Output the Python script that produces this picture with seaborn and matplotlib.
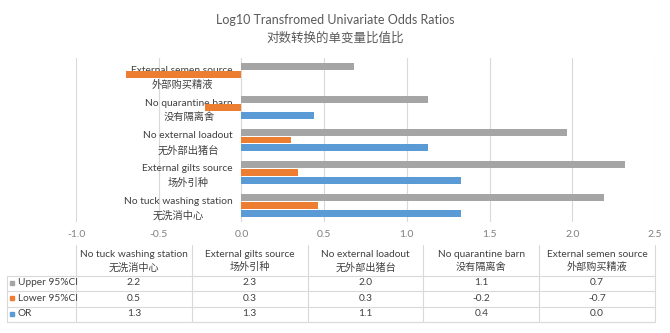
import matplotlib
matplotlib.use("Agg")
import matplotlib.pyplot as plt
import seaborn as sns
import pandas as pd

# Risk factors, listed from the top of the chart downwards
factors_en = ["External semen source", "No quarantine barn", "No external loadout",
              "External gilts source", "No tuck washing station"]
factors_zh = ["外部购买精液", "没有隔离舍", "无外部出猪台", "场外引种", "无洗消中心"]

# log10-transformed odds ratios and their 95% confidence limits
upper_ci = [0.68, 1.13, 1.97, 2.32, 2.19]
lower_ci = [-0.70, -0.22, 0.30, 0.34, 0.46]
odds_ratio = [0.0, 0.44, 1.13, 1.33, 1.33]

series_names = ["Upper 95%CI", "Lower 95%CI", "OR"]
series_colors = ["#A5A5A5", "#ED7D31", "#5B9BD5"]
x_ticks = [-1.0, -0.5, 0.0, 0.5, 1.0, 1.5, 2.0, 2.5]

sns.set_theme(style="white")
plt.rcParams["font.family"] = ["Lato", "Noto Sans CJK SC", "DejaVu Sans"]

W, H = 670, 333
fig = plt.figure(figsize=(W / 100, H / 100), dpi=100)
fig.patch.set_facecolor("white")


def fx(px):
    return px / W


def fy(py):
    return 1 - py / H


labels = [f"{en}\n{zh}" for en, zh in zip(factors_en, factors_zh)]
rows = []
for name, vals in zip(series_names, [upper_ci, lower_ci, odds_ratio]):
    for lab, v in zip(labels, vals):
        rows.append({"factor": lab, "series": name, "value": v})
df = pd.DataFrame(rows)

plot_left, plot_right, plot_top, plot_bottom = 76, 655, 58, 222
ax = fig.add_axes([fx(plot_left), fy(plot_bottom),
                   fx(plot_right) - fx(plot_left), (plot_bottom - plot_top) / H])
sns.barplot(data=df, y="factor", x="value", hue="series", order=labels,
            hue_order=series_names, palette=series_colors, orient="h",
            width=0.72, gap=0.12, saturation=1, linewidth=0, legend=False, ax=ax)

ax.set_xlim(x_ticks[0], x_ticks[-1])
ax.set_xticks(x_ticks)
ax.set_xticklabels([f"{t:.1f}" for t in x_ticks], color="#808080", fontsize=7.5)
ax.grid(axis="x", color="#D9D9D9", linewidth=0.8)
ax.grid(axis="y", visible=False)
ax.set_axisbelow(True)
ax.set_xlabel("")
ax.set_ylabel("")
for s in ax.spines.values():
    s.set_visible(False)
ax.spines["left"].set_position(("data", 0))
ax.tick_params(axis="x", length=0, pad=6)
ax.tick_params(axis="y", length=0, pad=6)
for lbl in ax.get_yticklabels():
    lbl.set_fontsize(7.4)
    lbl.set_color("#404040")
    lbl.set_multialignment("center")
    lbl.set_linespacing(1.6)

# Title
fig.text(0.5, fy(20), "Log10 Transfromed Univariate Odds Ratios", ha="center",
         va="center", fontsize=9, color="#595959")
fig.text(0.5, fy(38), "对数转换的单变量比值比", ha="center", va="center",
         fontsize=9, color="#595959")

# Data table under the axis, columns aligned with the x scale
tab_top, tab_bottom = 245, 322
tax = fig.add_axes([fx(plot_left), fy(tab_bottom),
                    fx(plot_right) - fx(plot_left), (tab_bottom - tab_top) / H])
tax.set_xlim(x_ticks[0], x_ticks[-1])
tax.set_ylim(5, 0)
tax.axis("off")

line_kw = dict(color="#D9D9D9", linewidth=0.8, clip_on=False)
col_w = (x_ticks[-1] - x_ticks[0]) / len(factors_en)
row_head_left = x_ticks[0] - (plot_left - 7) / ((plot_right - plot_left) / (x_ticks[-1] - x_ticks[0]))

table_order = list(range(len(factors_en)))[::-1]
for k in range(len(factors_en) + 1):
    tax.plot([x_ticks[0] + k * col_w] * 2, [0, 5], **line_kw)
tax.plot([row_head_left] * 2, [2, 5], **line_kw)
for yy in [2, 3, 4, 5]:
    tax.plot([row_head_left, x_ticks[-1]], [yy, yy], **line_kw)

txt_kw = dict(ha="center", va="center", color="#404040", fontsize=7.3)
for c, i in enumerate(table_order):
    cx = x_ticks[0] + (c + 0.5) * col_w
    tax.text(cx, 0.6, factors_en[i], **txt_kw)
    tax.text(cx, 1.45, factors_zh[i], **txt_kw)
    for r, vals in enumerate([upper_ci, lower_ci, odds_ratio]):
        tax.text(cx, 2.45 + r, f"{vals[i]:.1f}", **txt_kw)

for r, (name, col) in enumerate(zip(series_names, series_colors)):
    tax.plot([row_head_left + 0.03], [2.45 + r], marker="s", markersize=3.3,
             color=col, linestyle="none", clip_on=False)
    tax.text(row_head_left + 0.065, 2.45 + r, name, ha="left", va="center",
             color="#404040", fontsize=7.3)

fig.savefig("out.png", dpi=100, facecolor="white")
